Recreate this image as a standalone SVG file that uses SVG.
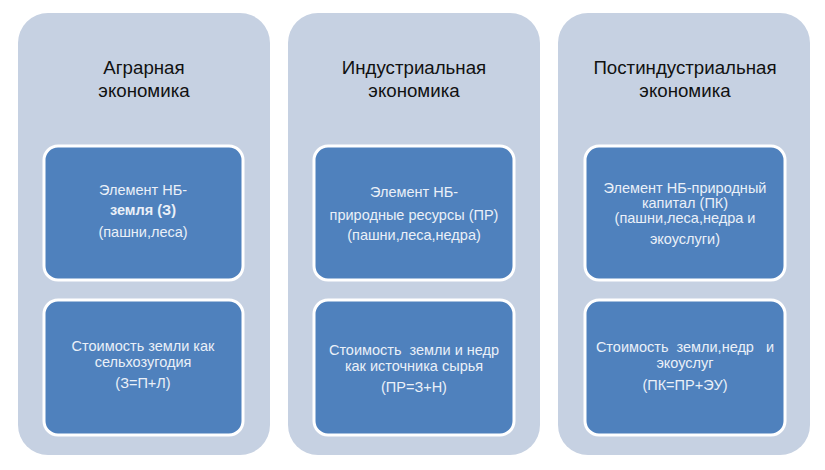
<svg xmlns="http://www.w3.org/2000/svg" width="825" height="470" viewBox="0 0 825 470">
<style>
.panel{fill:#c6d1e2}
.box{fill:#4f81bd;stroke:#ffffff;stroke-width:3}
.title{font-family:"Liberation Sans",Arial,sans-serif;font-size:18.7px;fill:#111111;text-anchor:middle}
.t{font-family:"Liberation Sans",Arial,sans-serif;font-size:14.5px;fill:#eaf0f8;text-anchor:middle}
.b{font-weight:bold}
</style>
<rect width="825" height="470" fill="#ffffff"/>
<g id="col1">
<rect class="panel" x="18" y="13" width="252" height="442" rx="30"/>
<text class="title" x="144" y="74">Аграрная</text>
<text class="title" x="144" y="97">экономика</text>
</g>
<g id="col2">
<rect class="panel" x="288" y="13" width="252" height="442" rx="30"/>
<text class="title" x="414" y="74">Индустриальная</text>
<text class="title" x="414" y="97">экономика</text>
</g>
<g id="col3">
<rect class="panel" x="558" y="13" width="252" height="442" rx="30"/>
<text class="title" x="685" y="74">Постиндустриальная</text>
<text class="title" x="685" y="97">экономика</text>
</g>
<g id="box1a">
<rect class="box" x="44" y="146" width="199" height="134" rx="14"/>
<text class="t" x="143" y="195">Элемент НБ-</text>
<text class="t b" x="143" y="215">земля (З)</text>
<text class="t" x="143" y="237">(пашни,леса)</text>
</g>
<g id="box1b">
<rect class="box" x="44" y="300" width="199" height="135" rx="14"/>
<text class="t" x="143" y="351">Стоимость земли как</text>
<text class="t" x="143" y="367">сельхозугодия</text>
<text class="t" x="143" y="388">(З=П+Л)</text>
</g>
<g id="box2a">
<rect class="box" x="314" y="146" width="200" height="134" rx="14"/>
<text class="t" x="414" y="197">Элемент НБ-</text>
<text class="t" x="414" y="220">природные ресурсы (ПР)</text>
<text class="t" x="414" y="240">(пашни,леса,недра)</text>
</g>
<g id="box2b">
<rect class="box" x="314" y="300" width="200" height="135" rx="14"/>
<text class="t" x="414" y="355" xml:space="preserve">Стоимость  земли и недр</text>
<text class="t" x="414" y="371">как источника сырья</text>
<text class="t" x="414" y="392">(ПР=З+Н)</text>
</g>
<g id="box3a">
<rect class="box" x="585" y="146" width="200" height="134" rx="14"/>
<text class="t" x="685" y="193">Элемент НБ-природный</text>
<text class="t" x="685" y="208">капитал (ПК)</text>
<text class="t" x="685" y="223">(пашни,леса,недра и</text>
<text class="t" x="685" y="244">экоуслуги)</text>
</g>
<g id="box3b">
<rect class="box" x="585" y="300" width="200" height="135" rx="14"/>
<text class="t" x="685" y="352" xml:space="preserve">Стоимость  земли,недр   и</text>
<text class="t" x="685" y="368">экоуслуг</text>
<text class="t" x="685" y="390">(ПК=ПР+ЭУ)</text>
</g>
<g id="connectors"></g>
</svg>
